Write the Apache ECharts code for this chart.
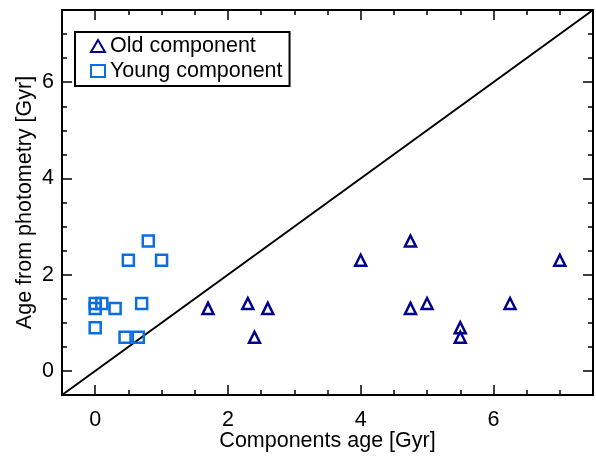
<!DOCTYPE html>
<html>
<head>
<meta charset="utf-8">
<script src="https://cdn.jsdelivr.net/npm/echarts@6/dist/echarts.min.js"></script>
<style>
  html, body { margin: 0; padding: 0; background: #fff; }
  #chart { width: 596px; height: 457px; }
</style>
</head>
<body>
<div id="chart"></div>
<script>
// old component: [components age, age from photometry]
var oldX = [1.7, 2.3, 2.4, 2.6, 4.0, 4.75, 4.75, 5.0, 5.5, 5.5, 6.25, 7.0];
var oldY = [1.3, 1.4, 0.7, 1.3, 2.3, 2.7, 1.3, 1.4, 0.9, 0.7, 1.4, 2.3];
// young component
var youngX = [0.0, 0.1, 0.0, 0.0, 0.3, 0.45, 0.65, 0.7, 0.5, 0.8, 1.0];
var youngY = [1.4, 1.4, 1.3, 0.9, 1.3, 0.7, 0.7, 1.4, 2.3, 2.7, 2.3];
// one-to-one line ends
var oneToOne = [-0.5, 7.5];
var axisMin = -0.5, axisMax = 7.5;

var font = '"Liberation Sans", Helvetica, Arial, sans-serif';
var fs = 21.5;
var navy = '#00008c';
var blue = '#0a6ee0';

function pairs(xs, ys) {
  return xs.map(function (x, i) { return [x, ys[i]]; });
}

function intLabel(v) {
  return Math.abs(v - Math.round(v)) < 1e-9 ? String(Math.round(v)) : '';
}

// each side gets a major axis (auto interval 2) and a minor one (ticks every 0.5)
function makeAxis(pos, major, opts) {
  var a = {
    type: 'value',
    position: pos,
    min: axisMin,
    max: axisMax,
    splitLine: { show: false },
    axisLine: { show: true, onZero: false, lineStyle: { color: '#000', width: 2 } },
    axisTick: { show: true, inside: true, length: major ? 10 : 5, lineStyle: { color: '#000', width: 1.5 } },
    axisLabel: { show: false }
  };
  if (major) {
    a.splitNumber = 4;
  } else {
    a.interval = 0.5;
  }
  return Object.assign(a, opts || {});
}

var labelStyle = { show: true, color: '#000', fontSize: fs, fontFamily: font, formatter: intLabel };

var chart = echarts.init(document.getElementById('chart'));
chart.setOption({
  animation: false,
  backgroundColor: '#fff',
  grid: { left: 62, right: 2, top: 10, bottom: 55 },
  legend: {
    orient: 'vertical',
    left: 75,
    top: 32,
    padding: [3, 7, 4, 15],
    itemGap: 3,
    itemWidth: 14,
    itemHeight: 12,
    borderColor: '#000',
    borderWidth: 2,
    borderRadius: 0,
    textStyle: { color: '#000', fontSize: fs, fontFamily: font },
    data: ['Old component', 'Young component']
  },
  xAxis: [
    makeAxis('bottom', true, {
      axisLabel: Object.assign({ margin: 14 }, labelStyle),
      name: 'Components age [Gyr]',
      nameLocation: 'middle',
      nameGap: 35,
      nameMoveOverlap: false,
      nameTextStyle: { color: '#000', fontSize: fs, fontFamily: font }
    }),
    makeAxis('bottom', false),
    makeAxis('top', true),
    makeAxis('top', false)
  ],
  yAxis: [
    makeAxis('left', true, {
      axisLabel: Object.assign({ margin: 8 }, labelStyle),
      name: 'Age from photometry [Gyr]',
      nameLocation: 'middle',
      nameGap: 26,
      nameMoveOverlap: false,
      nameTextStyle: { color: '#000', fontSize: fs, fontFamily: font }
    }),
    makeAxis('left', false),
    makeAxis('right', true),
    makeAxis('right', false)
  ],
  series: [
    {
      name: 'one-to-one',
      type: 'line',
      data: pairs(oneToOne, oneToOne),
      symbol: 'none',
      lineStyle: { color: '#000', width: 2 },
      silent: true,
      z: 1
    },
    {
      name: 'Old component',
      type: 'scatter',
      data: pairs(oldX, oldY),
      symbol: 'triangle',
      symbolSize: [11, 11],
      itemStyle: { color: 'rgba(0,0,0,0)', borderColor: navy, borderWidth: 2.5, opacity: 1 },
      z: 3
    },
    {
      name: 'Young component',
      type: 'scatter',
      data: pairs(youngX, youngY),
      symbol: 'rect',
      symbolSize: 11,
      itemStyle: { color: 'rgba(0,0,0,0)', borderColor: blue, borderWidth: 2.5, opacity: 1 },
      z: 3
    }
  ]
});
</script>
</body>
</html>
